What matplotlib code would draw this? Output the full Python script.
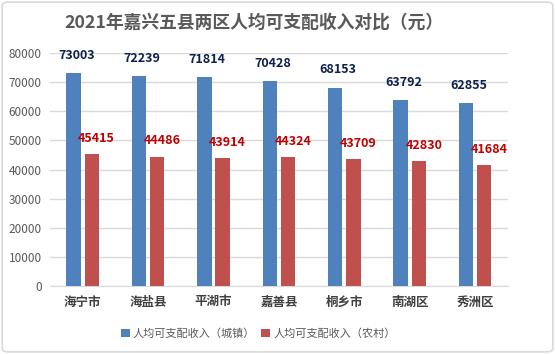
import matplotlib.pyplot as plt
import numpy as np
from matplotlib.patches import FancyBboxPatch

plt.rcParams['font.family'] = ['Noto Sans CJK SC', 'DejaVu Sans']

regions = ["海宁市", "海盐县", "平湖市", "嘉善县", "桐乡市", "南湖区", "秀洲区"]
urban = [73003, 72239, 71814, 70428, 68153, 63792, 62855]
rural = [45415, 44486, 43914, 44324, 43709, 42830, 41684]
y_ticks = [0, 10000, 20000, 30000, 40000, 50000, 60000, 70000, 80000]

BLUE = "#4F81BD"
RED = "#C0504D"
GRAY = "#595959"
GRID = "#D9D9D9"

fig = plt.figure(figsize=(5.55, 3.54), dpi=100)
fig.patches.append(FancyBboxPatch((0.004, 0.006), 0.992, 0.988,
                                  boxstyle="round,pad=0,rounding_size=0.01",
                                  transform=fig.transFigure, fill=False,
                                  edgecolor=GRID, linewidth=1.2))

ax = fig.add_axes([0.090, 0.192, 0.825, 0.658])
x = np.arange(len(regions))
w = 0.22
gap = 0.03
b1 = ax.bar(x - w / 2 - gap, urban, w, color=BLUE, label="人均可支配收入（城镇）", zorder=3)
b2 = ax.bar(x + w / 2 + gap, rural, w, color=RED, label="人均可支配收入（农村）", zorder=3)

for rect, v in zip(b1, urban):
    ax.annotate(str(v), (rect.get_x() + rect.get_width() / 2, v), xytext=(2, 8),
                textcoords="offset points", ha="center", va="bottom",
                fontsize=9, fontweight="bold", color="#0D1F4C")
for rect, v in zip(b2, rural):
    ax.annotate(str(v), (rect.get_x() + rect.get_width() / 2, v), xytext=(3.5, 6.5),
                textcoords="offset points", ha="center", va="bottom",
                fontsize=9, fontweight="bold", color="#C00000")

ax.set_xlim(-0.5, len(regions) - 0.5)
ax.set_ylim(0, 80000)
ax.set_yticks(y_ticks)
ax.set_yticklabels([str(t) for t in y_ticks], fontsize=8.5, color=GRAY)
ax.set_xticks(x)
ax.set_xticklabels(regions, fontsize=9, fontweight="bold", color="#404040")
ax.tick_params(axis="both", length=0)
ax.tick_params(axis="x", pad=7)
ax.tick_params(axis="y", pad=6)
ax.grid(axis="y", color=GRID, linewidth=1, zorder=0)
for s in ["top", "right", "left"]:
    ax.spines[s].set_visible(False)
ax.spines["bottom"].set_color(GRID)

fig.text(0.458, 0.935, "2021年嘉兴五县两区人均可支配收入对比（元）", ha="center", va="center",
         fontsize=12.8, fontweight="bold", color=GRAY)

fig.legend(handles=[b1, b2], loc="center", bbox_to_anchor=(0.465, 0.058), ncol=2, frameon=False,
           fontsize=8, handlelength=0.8, handleheight=0.8, handletextpad=0.3, columnspacing=0.5,
           labelcolor=GRAY)

fig.savefig("out.png", dpi=100)
